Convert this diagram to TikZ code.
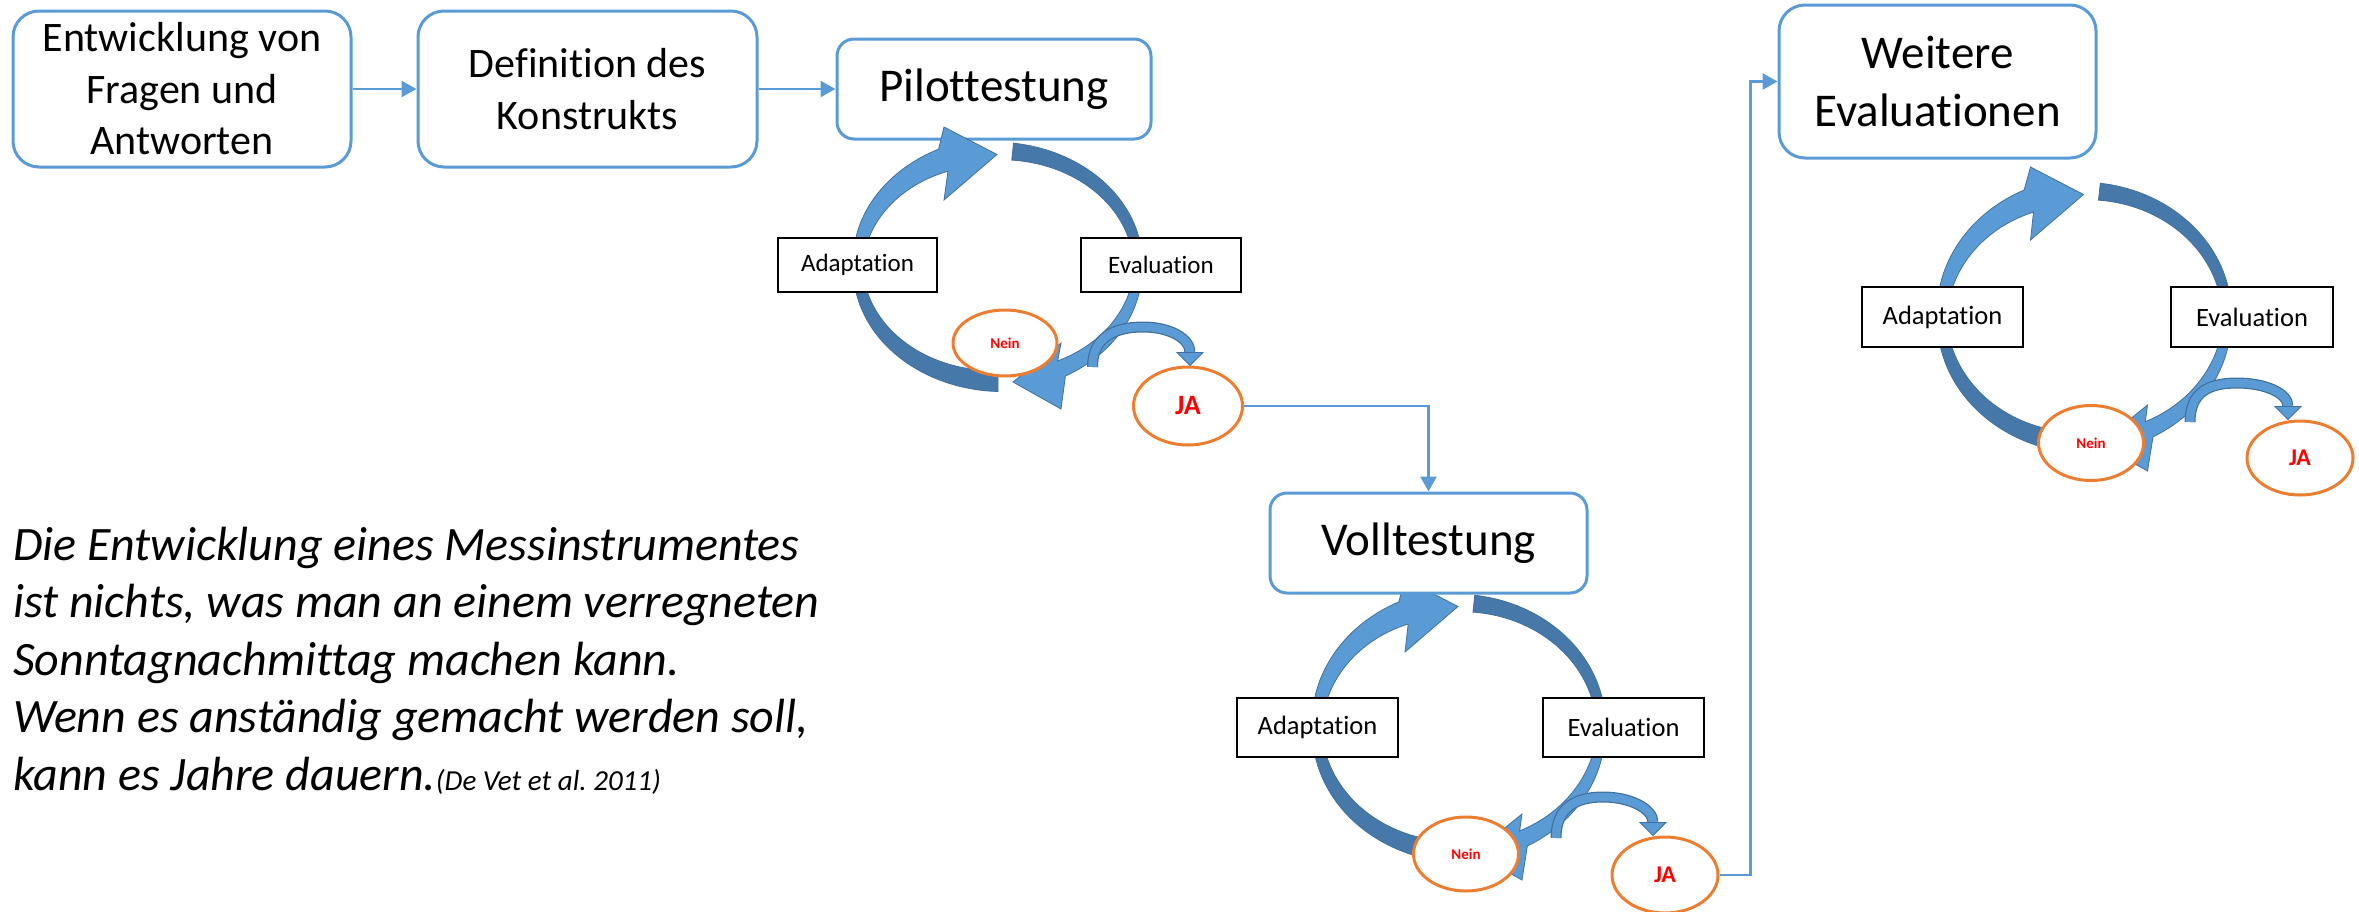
\documentclass[tikz,border=0pt]{standalone}
\usepackage{fontspec}
\setmainfont{Carlito}[RawFeature={-liga,-clig,-dlig}]
\usetikzlibrary{shapes.geometric,arrows.meta,calc}
\definecolor{cBlue}{HTML}{5B9BD5}
\definecolor{cDark}{HTML}{4778AA}
\definecolor{cEdge}{HTML}{41719C}
\definecolor{cOrange}{HTML}{ED7D31}
\definecolor{cRed}{HTML}{FF0000}
\newcommand\fs[2]{\fontsize{#1}{#2}\selectfont}
\frenchspacing
\tikzset{
 topbox/.style={draw=cBlue, line width=3pt, fill=white, align=center, inner sep=0pt, rounded corners=26pt, font=\fs{42}{51.5}},
 bigbox/.style={topbox, font=\fs{47}{58}},
 stagebox/.style={draw=black, line width=2.6pt, fill=white, inner sep=0pt},
 neinell/.style={ellipse, draw=cOrange, line width=3pt, fill=white, inner sep=0pt, text=cRed, font=\fs{15}{18}\bfseries},
 jaell/.style={neinell, font=\fs{24}{28}\bfseries},
 conn/.style={draw=cBlue, line width=2.75pt, -{Triangle[length=15pt,width=16pt]}},
 lightband/.style={fill=cBlue, draw=cEdge, line width=0.8pt},
 darkband/.style={fill=cDark, draw=cEdge, line width=0.8pt},
 quoteline/.style={anchor=base west, inner sep=0pt, font=\fs{48}{57.5}\itshape},
}
% circular arrows of one evaluation cycle
\newcommand\wcyc[4]{%
 \begin{scope}[shift={(#1,#2)}]
  \def\RX{#3}\def\RY{#4}
  \filldraw[darkband] plot[domain=276:358,samples=40] ({(\RX+(17-8*(\x-276)/82)/2)*cos(\x)},{(\RY+(17-8*(\x-276)/82)/2)*sin(\x)})
    -- plot[domain=358:276,samples=40] ({(\RX-(17-8*(\x-276)/82)/2)*cos(\x)},{(\RY-(17-8*(\x-276)/82)/2)*sin(\x)}) -- cycle;
  \filldraw[darkband] plot[domain=90:182,samples=40] ({(\RX+(21-12*(\x-90)/92)/2)*cos(\x)},{(\RY+(21-12*(\x-90)/92)/2)*sin(\x)})
    -- plot[domain=182:90,samples=40] ({(\RX-(21-12*(\x-90)/92)/2)*cos(\x)},{(\RY-(21-12*(\x-90)/92)/2)*sin(\x)}) -- cycle;
  \filldraw[lightband] plot[domain=178:247,samples=40] ({(\RX+(9+15*(\x-178)/69)/2)*cos(\x)},{(\RY+(9+15*(\x-178)/69)/2)*sin(\x)})
    -- (-54,{-\RY-24}) -- (-1,{-\RY+3.5}) -- (-54,{-\RY+49})
    -- plot[domain=247:178,samples=40] ({(\RX-(9+15*(\x-178)/69)/2)*cos(\x)},{(\RY-(9+15*(\x-178)/69)/2)*sin(\x)}) -- cycle;
  \filldraw[lightband] plot[domain=2:63,samples=40] ({(\RX+(8+9*(\x-2)/61)/2)*cos(\x)},{(\RY+(8+9*(\x-2)/61)/2)*sin(\x)})
    -- (63,{\RY+28}) -- (15,{\RY+1}) -- (63,{\RY-38})
    -- plot[domain=63:2,samples=40] ({(\RX-(8+9*(\x-2)/61)/2)*cos(\x)},{(\RY-(8+9*(\x-2)/61)/2)*sin(\x)}) -- cycle;
 \end{scope}}
% small curved arrow towards JA
\newcommand\jarrow[5]{%
  \path (#5) ++(0,-13) coordinate (jh);
  \draw[cEdge, line width=11pt] (#1,#2) .. controls +(0,-30) and +(-28,0) .. (#3,#4) .. controls +(27,0) and +(0,-14) .. (jh);
  \draw[cBlue, line width=8.5pt] (#1,#2) .. controls +(0,-30) and +(-28,0) .. (#3,#4) .. controls +(27,0) and +(0,-14) .. (jh);
  \filldraw[fill=cBlue, draw=cEdge, line width=0.8pt] ($(jh)+(-13,0)$) -- (#5) -- ($(jh)+(13,0)$) -- cycle;
}
\begin{document}
\begin{tikzpicture}[x=1pt,y=-1pt]
\useasboundingbox (0,0) rectangle (2359,911);
% top row
\node[topbox, minimum width=338pt, minimum height=156pt] (b1) at (182,89) {Entwicklung von\\Fragen und\\Antworten};
\node[topbox, minimum width=339pt, minimum height=156pt] (b2) at (587.5,89) {Definition des\\Konstrukts};
\node[bigbox, rounded corners=17pt, minimum width=314pt, minimum height=100pt] (b3) at (994,89) {Pilottestung};
% cycle 1
\wcyc{998}{266}{140}{115}
\node[stagebox, minimum width=159pt, minimum height=54pt, font=\fs{25}{30}] (a1) at (857.5,265) {Adaptation};
\node[stagebox, minimum width=160pt, minimum height=54pt, font=\fs{25}{30}] (e1) at (1161,265) {Evaluation};
\node[neinell, minimum width=104pt, minimum height=66pt] (n1) at (1005,343) {Nein};
\node[jaell, font=\fs{28}{32}\bfseries, minimum width=109pt, minimum height=78pt] (j1) at (1188,406) {JA};
\coordinate (t1) at ($(j1.north)+(2,0)$);
\jarrow{1092.5}{367}{1143}{327}{t1}
% cycle 2
\wcyc{1459}{727.5}{142}{124.5}
\node[bigbox, rounded corners=17pt, minimum width=317pt, minimum height=100pt] (b4) at (1428.5,543) {Volltestung};
\node[stagebox, minimum width=161pt, minimum height=59pt, font=\fs{26.5}{31}] (a2) at (1317.5,727.5) {Adaptation};
\node[stagebox, minimum width=161pt, minimum height=59pt, font=\fs{26.5}{31}] (e2) at (1623.5,727.5) {Evaluation};
\node[neinell, minimum width=105pt, minimum height=74pt] (n2) at (1466,854) {Nein};
\node[jaell, minimum width=106pt, minimum height=76pt] (j2) at (1665,875) {JA};
\coordinate (t2) at ($(j2.north)+(-12,0)$);
\jarrow{1556}{838}{1603}{797}{t2}
% cycle 3
\wcyc{2084.5}{317}{142.5}{126}
\node[bigbox, minimum width=317pt, minimum height=153pt] (b5) at (1937.5,81.5) {Weitere\\Evaluationen};
\node[stagebox, minimum width=161pt, minimum height=60pt, font=\fs{26.5}{31}] (a3) at (1942.5,317) {Adaptation};
\node[stagebox, minimum width=162pt, minimum height=60pt, font=\fs{26.5}{31}] (e3) at (2252,317) {Evaluation};
\node[neinell, minimum width=105pt, minimum height=75pt] (n3) at (2091,443) {Nein};
\node[jaell, minimum width=106pt, minimum height=74pt] (j3) at (2300,458) {JA};
\coordinate (t3) at ($(j3.north)+(-12,0)$);
\jarrow{2190}{422}{2237}{383}{t3}
% connectors
\draw[conn] (b1.east) -- (b2.west);
\draw[conn] (b2.east) -- (b3.west);
\draw[conn] (j1.east) -| (b4.north);
\coordinate (k2) at ($(j2.east)+(31,0)$);
\draw[conn] (j2.east) -- (k2) |- (b5.west);
% quote
\node[quoteline] (q1) at (13,560) {Die Entwicklung eines Messinstrumentes};
\node[quoteline] (q2) at (13,617) {ist nichts, was man an einem verregneten};
\node[quoteline] (q3) at (13,675) {Sonntagnachmittag machen kann.};
\node[quoteline] (q4) at (13,732) {Wenn es anständig gemacht werden soll,};
\node[quoteline] (q5) at (13,790) {kann es Jahre dauern.{\fs{29}{35}(De Vet et al. 2011)}};
\end{tikzpicture}
\end{document}
